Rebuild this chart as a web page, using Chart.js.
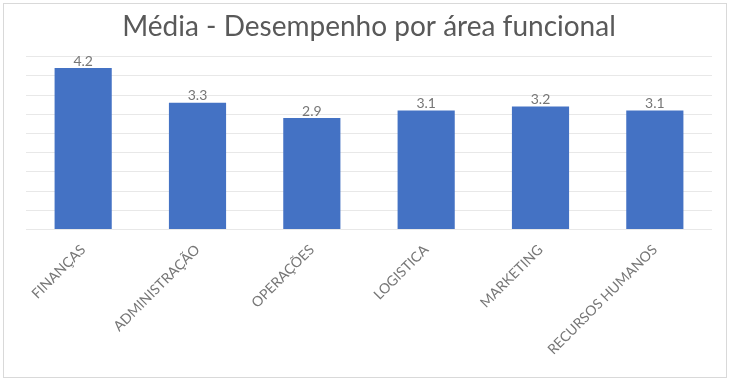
<!DOCTYPE html>
<html>
<head>
<meta charset="utf-8">
<script src="https://cdn.jsdelivr.net/npm/chart.js@4"></script>
<style>
  body { margin: 0; background: #fff; }
  #wrap {
    position: absolute; left: 3px; top: 3px;
    width: 722px; height: 373px;
    border: 1px solid #d9d9d9; background: #fff;
  }
</style>
</head>
<body>
<div id="wrap"><canvas id="chart"></canvas></div>
<script>
// data
const categories = ["FINANÇAS", "ADMINISTRAÇÃO", "OPERAÇÕES", "LOGISTICA", "MARKETING", "RECURSOS HUMANOS"];
const mediaValues = [4.2, 3.3, 2.9, 3.1, 3.2, 3.1];
const chartTitle = "Média - Desempenho por área funcional";

const FONT = "Lato, Calibri, 'Liberation Sans', sans-serif";
const GREY = "#595959";
const LIGHT_GREY = "#767676";

// draws the value above each bar
const valueLabels = {
    id: "valueLabels",
    afterDatasetsDraw(chart) {
        const ctx = chart.ctx;
        const meta = chart.getDatasetMeta(0);
        ctx.save();
        ctx.font = "14px " + FONT;
        ctx.fillStyle = LIGHT_GREY;
        ctx.textAlign = "center";
        ctx.textBaseline = "bottom";
        meta.data.forEach((bar, i) => {
            ctx.fillText(mediaValues[i].toFixed(1), bar.x, bar.y);
        });
        ctx.restore();
    }
};

const ctx = document.getElementById("chart");

new Chart(ctx, {
    type: "bar",
    data: {
        labels: categories,
        datasets: [
            {
                label: "Média",
                data: mediaValues,
                backgroundColor: "#4472C4",
                borderWidth: 0,
                barPercentage: 0.5,
                categoryPercentage: 1,
            },
        ],
    },
    options: {
        responsive: true,
        maintainAspectRatio: false,
        animation: false,
        layout: {
            padding: { left: 22, right: 14, top: 0, bottom: 15 },
        },
        plugins: {
            legend: { display: false },
            tooltip: { enabled: false },
            title: {
                display: true,
                text: chartTitle,
                color: GREY,
                font: { family: FONT, size: 28, weight: "normal" },
                padding: { top: 6, bottom: 13 },
            },
        },
        scales: {
            x: {
                grid: { display: false },
                border: { display: false },
                ticks: {
                    color: LIGHT_GREY,
                    font: { family: FONT, size: 14 },
                    minRotation: 45,
                    maxRotation: 45,
                    padding: 4,
                },
            },
            y: {
                min: 0,
                max: 4.5,
                grid: { color: "#e8e8e8", drawTicks: false },
                border: { display: false },
                ticks: { display: false, stepSize: 0.5 },
            },
        },
    },
    plugins: [valueLabels],
});
</script>
</body>
</html>
